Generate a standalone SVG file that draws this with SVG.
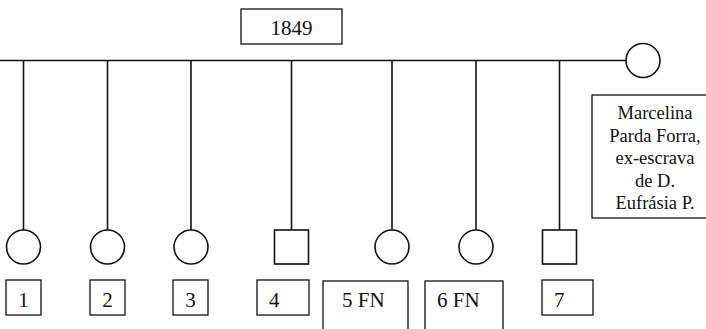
<svg xmlns="http://www.w3.org/2000/svg" width="706" height="329" viewBox="0 0 706 329">
<style>
.ln{stroke:#111;stroke-width:1.6;fill:none}
.sh{stroke:#111;stroke-width:1.6;fill:#fff}
.bx{stroke:#111;stroke-width:1.3;fill:#fff}
.t{font-family:'Liberation Serif','Times New Roman','DejaVu Serif',serif;font-size:21px;fill:#111}
.m{font-family:'Liberation Serif','Times New Roman','DejaVu Serif',serif;font-size:18.5px;fill:#111;text-anchor:middle}
</style>
<rect width="706" height="329" fill="#fff"/>
<g id="connectors">
<line class="ln" x1="0" y1="60.5" x2="626" y2="60.5"/>
<line class="ln" x1="23.5" y1="60.5" x2="23.5" y2="230"/>
<line class="ln" x1="107.5" y1="60.5" x2="107.5" y2="230"/>
<line class="ln" x1="191" y1="60.5" x2="191" y2="230"/>
<line class="ln" x1="291.5" y1="60.5" x2="291.5" y2="230"/>
<line class="ln" x1="392" y1="60.5" x2="392" y2="230"/>
<line class="ln" x1="476" y1="60.5" x2="476" y2="230"/>
<line class="ln" x1="559.5" y1="60.5" x2="559.5" y2="230"/>
</g>
<g id="year"><rect class="bx" x="241" y="9" width="101" height="35"/><text class="t" x="291.5" y="35" text-anchor="middle" font-family="Liberation Serif, serif">1849</text></g>
<g id="mother"><circle class="sh" cx="643" cy="60.5" r="17"/></g>
<g id="mother-label"><rect class="bx" x="592" y="95" width="130" height="123"/>
<text class="m" x="655" y="119">Marcelina</text>
<text class="m" x="655" y="142">Parda Forra,</text>
<text class="m" x="655" y="164">ex-escrava</text>
<text class="m" x="655" y="187">de D.</text>
<text class="m" x="655" y="209">Eufrásia P.</text></g>
<g id="child1"><circle class="sh" cx="23.5" cy="247" r="17"/><rect class="bx" x="6" y="280" width="35" height="35"/><text class="t" x="23.5" y="307" text-anchor="middle">1</text></g>
<g id="child2"><circle class="sh" cx="107.5" cy="247" r="17"/><rect class="bx" x="90" y="280" width="35" height="35"/><text class="t" x="107.5" y="307" text-anchor="middle">2</text></g>
<g id="child3"><circle class="sh" cx="191" cy="247" r="17"/><rect class="bx" x="173" y="280" width="35" height="35"/><text class="t" x="190.5" y="307" text-anchor="middle">3</text></g>
<g id="child4"><rect class="sh" x="274.5" y="230" width="34" height="34"/><rect class="bx" x="257" y="280" width="52" height="35"/><text class="t" x="269" y="307">4</text></g>
<g id="child5"><circle class="sh" cx="392" cy="247" r="17"/><rect class="bx" x="323" y="281" width="85" height="60"/><text class="t" x="342" y="307">5 FN</text></g>
<g id="child6"><circle class="sh" cx="476" cy="247" r="17"/><rect class="bx" x="425" y="281" width="78" height="60"/><text class="t" x="437" y="307">6 FN</text></g>
<g id="child7"><rect class="sh" x="542.5" y="230" width="34" height="34"/><rect class="bx" x="542" y="280" width="51" height="35"/><text class="t" x="554" y="307">7</text></g>
</svg>
